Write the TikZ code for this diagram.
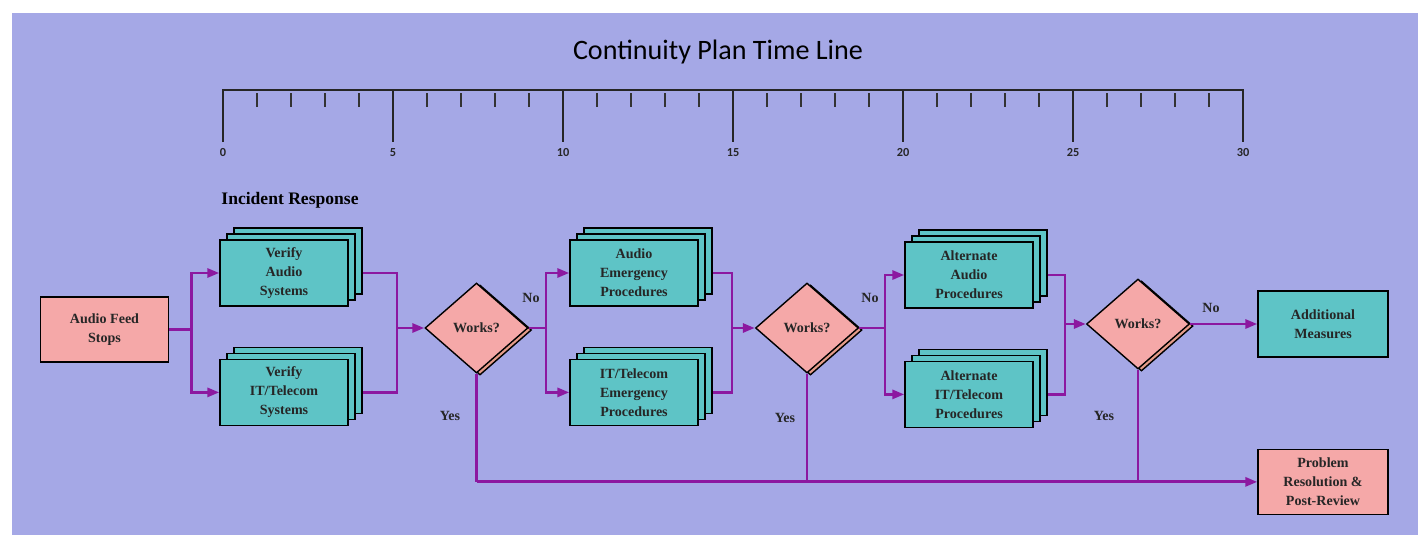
\documentclass[tikz,border=0pt]{standalone}
\usepackage{fontspec}
\setmainfont{Liberation Serif}
\newfontfamily\titlefont{Carlito}
\usetikzlibrary{positioning,shapes.geometric,shadows,arrows.meta}

\definecolor{bgblue}{RGB}{165,168,230}
\definecolor{boxpink}{RGB}{245,168,168}
\definecolor{boxteal}{RGB}{94,196,198}
\definecolor{flowpurple}{RGB}{140,24,160}

\begin{document}
\begin{tikzpicture}[
		x=0.02cm, y=-0.02cm,
		node distance=1.36cm,
		txt/.style={font=\bfseries\fontsize{8}{10.8}\selectfont, align=center, text=black!85},
		pinkbox/.style={txt, draw=black, line width=0.8pt, fill=boxpink, minimum width=2.56cm, minimum height=1.3cm},
		tealbox/.style={txt, draw=black, line width=0.8pt, fill=boxteal, minimum width=2.6cm, minimum height=1.32cm},
		stackbox/.style={txt, draw=black, line width=0.8pt, fill=boxteal, minimum width=2.56cm, minimum height=1.32cm,
			general shadow={shadow scale=1, shadow xshift=0.28cm, shadow yshift=0.24cm, fill=boxteal, draw=black},
			general shadow={shadow scale=1, shadow xshift=0.14cm, shadow yshift=0.12cm, fill=boxteal, draw=black}},
		decision/.style={txt, diamond, draw=black, line width=0.8pt, fill=boxpink, minimum width=2.06cm, minimum height=1.8cm, inner sep=0pt,
			general shadow={shadow scale=1, shadow xshift=0.07cm, shadow yshift=-0.04cm, fill=boxpink!70!brown, draw=black}},
		flow/.style={draw=flowpurple, line width=1.6pt},
		arr/.style={flow, -{Triangle[length=0.24cm,width=0.18cm]}},
		ticklab/.style={font=\titlefont\bfseries\fontsize{7}{8}\selectfont, text=black!85},
	]
		% page and background
		\fill[white] (0,0) rectangle (1424,535);
		\fill[bgblue] (12,13) rectangle (1418,535);
		\useasboundingbox (0,0) rectangle (1424,535);

		% time line
		\node (title) at (718,52) {\titlefont\fontsize{16}{19}\selectfont Continuity Plan Time Line};
		\foreach \t in {1,...,29}
			\draw[line width=0.7pt, black!80] (223+34*\t,93) -- (223+34*\t,107);
		\draw[line width=1.1pt, black!85] (223,142) -- (223,90) -- (1243,90) -- (1243,142);
		\foreach \t in {5,10,...,25}
			\draw[line width=1.1pt, black!85] (223+34*\t,90) -- (223+34*\t,142);
		\foreach \t in {0,5,...,30}
			\node (t\t) [ticklab] at (223+34*\t,153) {\t};

		\node (incident) at (290,200) {\bfseries\fontsize{10}{12}\selectfont Incident Response};

		% flow chart
		\node (feed) [pinkbox] at (104.5,329.5) {Audio Feed\\Stops};
		\node (vaudio) [stackbox] at (284,273) {Verify\\Audio\\Systems};
		\node (vit) [stackbox, below=1.04cm of vaudio] {Verify\\IT/Telecom\\Systems};
		\node (wk1) [decision] at (476.5,328) {Works?};
		\node (aemerg) [stackbox] at (634,273) {Audio\\Emergency\\Procedures};
		\node (itemerg) [stackbox, below=1.04cm of aemerg] {IT/Telecom\\Emergency\\Procedures};
		\node (wk2) [decision] at (807,328) {Works?};
		\node (altaud) [stackbox] at (969,275) {Alternate\\Audio\\Procedures};
		\node (altit) [stackbox, below=1.04cm of altaud] {Alternate\\IT/Telecom\\Procedures};
		\node (wk3) [decision] at (1138,324) {Works?};
		\node (addm) [tealbox] at (1323,324) {Additional\\Measures};
		\node (prob) [pinkbox, minimum width=2.6cm, below=1.82cm of addm] {Problem\\Resolution \&\\Post-Review};

		\coordinate (j1) at ([xshift=0.44cm]feed.east);
		\draw[flow] (feed.east) -- (j1);
		\draw[arr] (j1) |- (vaudio.west);
		\draw[arr] (j1) |- (vit.west);
		\coordinate (m1) at (397,328);
		\draw[flow] ([xshift=0.28cm]vaudio.east) -| (m1) |- ([xshift=0.28cm]vit.east);
		\draw[arr] (m1) -- (wk1.west);

		\coordinate (j2) at (546,328);
		\draw[flow] (wk1.east) -- (j2);
		\draw[arr] (j2) |- (aemerg.west);
		\draw[arr] (j2) |- (itemerg.west);
		\coordinate (m2) at (732,328);
		\draw[flow] ([xshift=0.28cm]aemerg.east) -| (m2) |- ([xshift=0.28cm]itemerg.east);
		\draw[arr] (m2) -- (wk2.west);

		\coordinate (j3) at (885,328);
		\draw[flow] (wk2.east) -- (j3);
		\draw[arr] (j3) |- (altaud.west);
		\draw[arr] (j3) |- (altit.west);
		\coordinate (m3) at (1065,324);
		\draw[flow] ([xshift=0.28cm]altaud.east) -| (m3) |- ([xshift=0.28cm]altit.east);
		\draw[arr] (m3) -- (wk3.west);

		\draw[arr] (wk3.east) -- (addm.west);
		\coordinate (b1) at (wk1.south |- prob.west);
		\draw[flow] (wk1.south) -- (b1);
		\draw[arr] (b1) -- (prob.west);
		\draw[flow] (wk2.south) -- (wk2.south |- prob.west);
		\draw[flow] (wk3.south) -- (wk3.south |- prob.west);

		\node (no1) [txt] at (531,298) {No};
		\node (no2) [txt] at (870,298) {No};
		\node (no3) [txt] at (1211,308) {No};
		\node (yes1) [txt] at (450,416) {Yes};
		\node (yes2) [txt] at (785,418) {Yes};
		\node (yes3) [txt] at (1104,416) {Yes};
	\end{tikzpicture}
\end{document}
